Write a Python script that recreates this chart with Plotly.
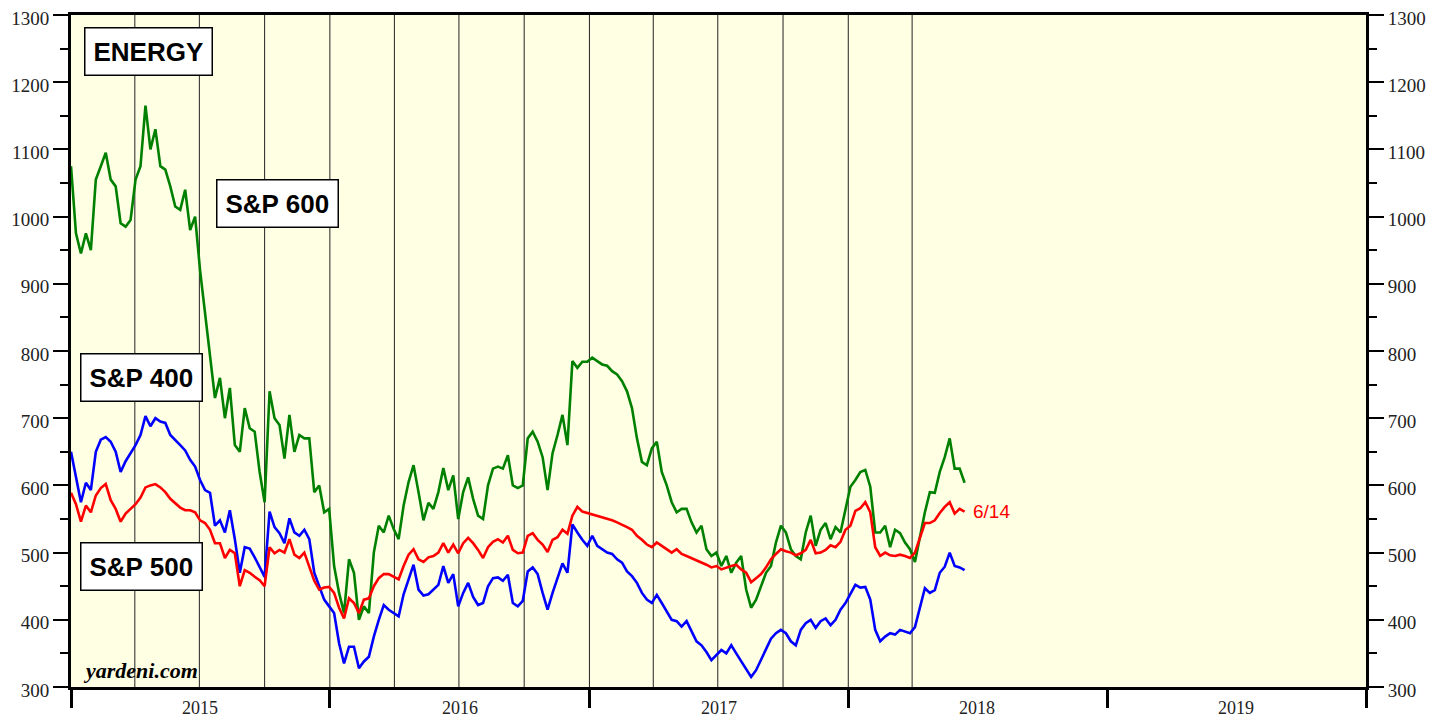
import pandas as pd
import plotly.graph_objects as go

# Weekly observations, 2015-01-01 .. 2018-06-14
dates = pd.date_range("2015-01-01", periods=181, freq="7D")

sp600_energy = [
    1075, 975, 945, 975, 950, 1055, 1075, 1095, 1055, 1045, 990, 985, 995, 1055, 1075, 1165,
    1100, 1130, 1075, 1070, 1045, 1015, 1010, 1040, 980, 1000, 920, 857, 800, 730, 760, 700,
    745, 660, 650, 715, 685, 680, 620, 575, 740, 700, 690, 640, 705, 650, 675, 670, 670, 590,
    600, 560, 565,
    480, 440, 410, 490, 470, 400, 420, 410, 500, 540, 530, 555, 535, 520, 570, 605, 630, 590,
    548, 574, 565, 590, 626, 593, 615, 550, 590, 612, 580, 555, 550, 600, 625, 628, 625, 645,
    600, 596, 600, 670, 680, 665, 642, 593, 648, 675, 705, 660, 785, 775, 784, 784,
    790, 785, 780, 778, 770, 765, 755, 740, 715, 670, 635, 630, 655, 665, 620, 600, 575, 560,
    565, 565, 545, 530, 540, 505, 495, 500, 480, 495, 470, 485, 495, 445, 418, 430, 450, 470,
    480, 515, 540, 530, 505, 495, 490, 530, 555, 510, 534, 544, 520, 538, 530, 565,
    598, 608, 620, 623, 598, 530, 530, 540, 508, 534, 529, 515, 505, 486, 525, 560, 590, 589,
    620, 642, 670, 625, 625, 604,
]

sp400_energy = [
    650, 610, 575, 604, 593, 650, 668, 672, 665, 650, 620, 636, 647, 660, 675, 703,
    688, 700, 695, 693, 675, 668, 660, 652, 638, 628, 608, 593, 589, 540, 548, 530,
    563, 520, 470, 508, 506, 493, 478, 464, 561, 538, 529, 514, 551, 530, 525, 534, 520, 470,
    450, 430, 420,
    410, 365, 335, 360, 360, 328, 338, 345, 375, 400, 422, 415, 410, 405, 438, 460, 482, 445,
    436, 438, 445, 452, 480, 455, 468, 420, 440, 455, 434, 422, 425, 450, 462, 463, 458, 467,
    425, 420, 428, 472, 478, 468, 440, 415, 440, 462, 484, 470, 542, 530, 519, 510,
    525, 510, 505, 500, 498, 490, 485, 472, 465, 455, 440, 430, 425, 437, 425, 412, 400, 398,
    390, 398, 382, 368, 362, 352, 340, 348, 355, 350, 362, 350, 338, 325, 315, 325, 340, 355,
    372, 380, 385, 380, 368, 362, 385, 395, 400, 388, 398, 402, 392, 400, 415, 425,
    438, 452, 448, 449, 430, 385, 368, 375, 380, 378, 385, 382, 380, 389, 419, 447, 440, 444,
    470, 479, 500, 480, 478, 474,
]

sp500_energy = [
    589, 572, 546, 570, 560, 585, 596, 602, 578, 565, 546, 558, 565, 572, 582, 597,
    600, 602, 597, 590, 580, 574, 567, 563, 563, 560, 548, 544, 534, 514, 514, 492,
    504, 499, 450, 474, 470, 464, 459, 450, 508, 499, 504, 500, 520, 497, 492, 500, 480, 458,
    445, 448, 449,
    440, 418, 402, 432, 425, 410, 430, 432, 450, 462, 468, 468, 464, 460, 480, 497, 505, 490,
    486, 493, 495, 500, 514, 500, 512, 499, 514, 522, 514, 504, 492, 508, 516, 520, 515, 525,
    504, 499, 500, 525, 529, 519, 512, 501, 519, 523, 534, 528, 555, 568, 561, 559,
    556, 554, 552, 550, 548, 545, 542, 538, 534, 525, 519, 512, 508, 515, 510, 505, 500, 505,
    498, 495, 492, 488, 485, 482, 478, 480, 475, 478, 480, 482, 475, 470, 456, 462, 468, 478,
    490, 498, 505, 502, 500, 496, 499, 504, 519, 499, 500, 504, 511, 508, 516, 534,
    540, 562, 566, 575, 560, 508, 495, 500, 496, 495, 497, 495, 492, 500, 523, 544, 544, 548,
    559, 568, 575, 558, 565, 561,
]

series_names = ["S&P 600", "S&P 400", "S&P 500"]
series_colors = ["#008000", "#0000FF", "#FF0000"]
years = ["2015", "2016", "2017", "2018", "2019"]
y_ticks = [300, 400, 500, 600, 700, 800, 900, 1000, 1100, 1200, 1300]
last_label = "6/14"

fig = go.Figure()
for name, vals, col in zip(series_names, [sp600_energy, sp400_energy, sp500_energy], series_colors):
    fig.add_trace(go.Scatter(x=dates, y=vals, mode="lines", name=name,
                             line=dict(color=col, width=2.6), showlegend=False))

# dummy trace to activate the right-hand axis
fig.add_trace(go.Scatter(x=[dates[0]], y=[None], yaxis="y2", showlegend=False,
                         mode="lines", hoverinfo="skip"))

# quarterly vertical lines over the data span
for q in pd.date_range("2015-04-01", "2018-04-01", freq="QS"):
    fig.add_shape(type="line", x0=q, x1=q, xref="x", y0=0, y1=1, yref="paper",
                  line=dict(color="#222222", width=1), layer="below")

tick_font = dict(family="Liberation Serif, Times New Roman, serif", size=19, color="#222")

yaxis_common = dict(
    range=[300, 1300], tickvals=y_ticks, ticks="outside", ticklen=15, tickwidth=1.5,
    tickcolor="black", showgrid=False, zeroline=False, showline=True, linewidth=3,
    linecolor="black", tickfont=tick_font, automargin=False, ticklabeloverflow="allow",
    ticklabelshift=3,
    minor=dict(ticks="outside", ticklen=8, dtick=50, tick0=300, tickcolor="black", tickwidth=1.5),
)

year_starts = [f"{y}-01-01" for y in range(2015, 2021)]
# page body has an 8px margin, so the figure is sized to fit the 1448x721 window
fig.update_layout(
    width=1440, height=713,
    margin=dict(l=63, r=82, t=7, b=34, autoexpand=False),
    paper_bgcolor="white",
    plot_bgcolor="#FFFFE4",
    xaxis=dict(range=["2015-01-01", "2020-01-01"], tickvals=year_starts, showticklabels=False,
               ticks="outside", ticklen=18, tickwidth=3, tickcolor="black", automargin=False,
               showgrid=False, zeroline=False, showline=True, linewidth=3, linecolor="black",
               mirror=True),
    yaxis=dict(side="left", **yaxis_common),
    yaxis2=dict(side="right", overlaying="y", **yaxis_common),
)

# year labels centred in each year
for y in years:
    fig.add_annotation(x=f"{y}-07-02", xref="x", y=0, yref="paper", yshift=-9,
                       text=y, showarrow=False, yanchor="top",
                       font=dict(family="Liberation Serif, Times New Roman, serif", size=18, color="#222"))

box_font = dict(family="Liberation Sans, Arial, sans-serif", size=26, color="black")
for txt, px, py in [("<b>ENERGY</b>", 0.0602, 0.945), ("<b>S&P 600</b>", 0.1598, 0.720),
                    ("<b>S&P 400</b>", 0.0548, 0.460), ("<b>S&P 500</b>", 0.0548, 0.180)]:
    fig.add_annotation(x=px, y=py, xref="paper", yref="paper", text=txt, showarrow=False,
                       font=box_font, bgcolor="white", bordercolor="black", borderwidth=1.5,
                       borderpad=8, xanchor="center", yanchor="middle")

fig.add_annotation(x=dates[-1], y=sp500_energy[-1], xref="x", yref="y", text=last_label,
                   showarrow=False, xanchor="left", xshift=6,
                   font=dict(family="Liberation Sans, Arial, sans-serif", size=19, color="#FF0000"))

fig.add_annotation(x=0.008, y=0.003, xref="paper", yref="paper", text="<b><i>yardeni.com</i></b>",
                   showarrow=False, xanchor="left", yanchor="bottom",
                   font=dict(family="Liberation Serif, Times New Roman, serif", size=22, color="black"))

fig.write_html("out.html")
